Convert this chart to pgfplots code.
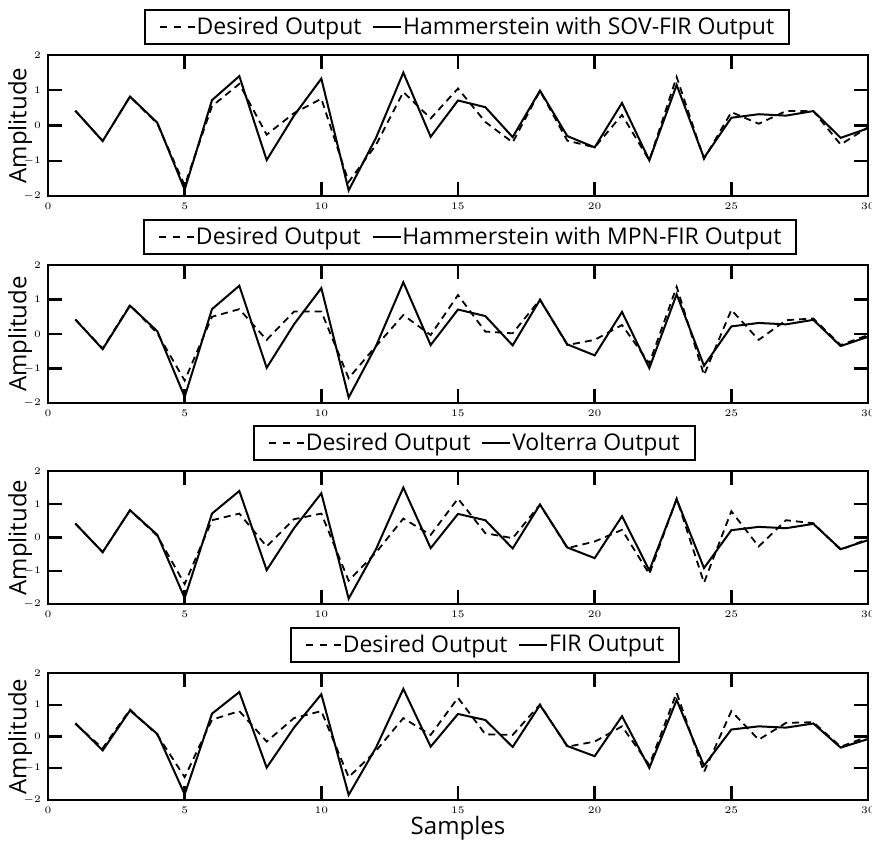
\documentclass[border=0pt]{standalone}
\usepackage{fontspec}
\setmainfont{Open Sans}
\usepackage{pgfplots}
\pgfplotsset{compat=1.18}
\usepackage{pgfplotstable}

% model output (solid), same in all panels
\pgfplotstableread{
x y
1 0.42
2 -0.44
3 0.82
4 0.08
5 -1.82
6 0.72
7 1.40
8 -0.98
9 0.28
10 1.33
11 -1.84
12 -0.35
13 1.50
14 -0.32
15 0.71
16 0.52
17 -0.33
18 0.99
19 -0.30
20 -0.62
21 0.64
22 -0.99
23 1.15
24 -0.92
25 0.22
26 0.32
27 0.28
28 0.41
29 -0.35
30 -0.08
}\solid

\pgfplotstableread{
x y
1 0.42
2 -0.44
3 0.82
4 0.05
5 -1.70
6 0.55
7 1.18
8 -0.26
9 0.35
10 0.76
11 -1.60
12 -0.55
13 0.95
14 0.20
15 1.05
16 0.10
17 -0.48
18 0.98
19 -0.43
20 -0.62
21 0.30
22 -0.99
23 1.38
24 -0.95
25 0.38
26 0.05
27 0.41
28 0.41
29 -0.54
30 -0.05
}\dOne

\pgfplotstableread{
x y
1 0.42
2 -0.42
3 0.84
4 0.02
5 -1.35
6 0.50
7 0.72
8 -0.17
9 0.65
10 0.65
11 -1.28
12 -0.35
13 0.55
14 -0.03
15 1.13
16 0.07
17 0.02
18 1.00
19 -0.32
20 -0.17
21 0.26
22 -0.85
23 1.37
24 -1.19
25 0.70
26 -0.17
27 0.40
28 0.45
29 -0.32
30 -0.03
}\dTwo

\pgfplotstableread{
x y
1 0.42
2 -0.44
3 0.82
4 0.05
5 -1.40
6 0.52
7 0.72
8 -0.27
9 0.55
10 0.72
11 -1.30
12 -0.45
13 0.57
14 0.08
15 1.17
16 0.13
17 -0.02
18 0.99
19 -0.32
20 -0.12
21 0.23
22 -1.10
23 1.17
24 -1.36
25 0.79
26 -0.27
27 0.52
28 0.43
29 -0.37
30 -0.04
}\dThree

\pgfplotstableread{
x y
1 0.40
2 -0.37
3 0.85
4 0.05
5 -1.28
6 0.53
7 0.80
8 -0.16
9 0.58
10 0.80
11 -1.28
12 -0.45
13 0.58
14 0.05
15 1.22
16 0.07
17 0.05
18 1.01
19 -0.32
20 -0.16
21 0.32
22 -0.90
23 1.38
24 -1.12
25 0.80
26 -0.10
27 0.43
28 0.45
29 -0.32
30 0.00
}\dFour

\pgfplotsset{
  panel/.style={
    scale only axis, width=410pt,
    xmin=0, xmax=30, ymin=-2, ymax=2,
    xtick={0,5,...,30}, ytick={-2,-1,0,1,2},
    major tick length=7pt,
    tick style={black, line width=1.2pt},
    tick label style={font=\fontsize{3.5}{4}\selectfont},
    axis line style={line width=1.2pt},
    ylabel=Amplitude,
    every axis y label/.style={at={(axis description cs:-0.034,0.5)}, rotate=90, anchor=center, font=\fontsize{12}{14}\selectfont},
    legend columns=2,
    legend style={anchor=south, yshift=5pt, draw=black, line width=1pt,
      font=\fontsize{11.5}{13}\selectfont, inner xsep=7pt, inner ysep=1.5pt,
      nodes={inner xsep=0.5pt},
      /tikz/every even column/.append style={column sep=5pt}},
  },
  des/.style={black, line width=0.9pt, dash pattern=on 3.5pt off 2.5pt,
    legend image code/.code={\draw[##1, dash pattern=on 3.5pt off 3.5pt] (0pt,0pt) -- (17.5pt,0pt);}},
  mdl/.style={black, line width=1pt,
    legend image code/.code={\draw[##1, line width=0.8pt] (0pt,0pt) -- (14pt,0pt);}},
}

\begin{document}
\begin{tikzpicture}
\path[use as bounding box] (-24pt,-420.5pt) rectangle (412pt,0pt);

\begin{axis}[panel, at={(0pt,-98pt)}, anchor=south west, height=70.5pt,
  legend style={at={(0.511,1)}}]
\addplot[des] table[x=x,y=y]{\dOne};
\addlegendentry{Desired Output}
\addplot[mdl] table[x=x,y=y]{\solid};
\addlegendentry{Hammerstein with SOV-FIR Output}
\end{axis}

\begin{axis}[panel, at={(0pt,-201.5pt)}, anchor=south west, height=69pt,
  legend style={at={(0.515,1)}}]
\addplot[des] table[x=x,y=y]{\dTwo};
\addlegendentry{Desired Output}
\addplot[mdl] table[x=x,y=y]{\solid};
\addlegendentry{Hammerstein with MPN-FIR Output}
\end{axis}

\begin{axis}[panel, at={(0pt,-302pt)}, anchor=south west, height=66.5pt,
  legend style={at={(0.52,1)}}]
\addplot[des] table[x=x,y=y]{\dThree};
\addlegendentry{Desired Output}
\addplot[mdl] table[x=x,y=y]{\solid};
\addlegendentry{Volterra Output}
\end{axis}

\begin{axis}[panel, at={(0pt,-400pt)}, anchor=south west, height=63.5pt,
  legend style={at={(0.533,1)}},
  xlabel=Samples,
  every axis x label/.style={at={(axis description cs:0.5,-0.22)}, anchor=center, font=\fontsize{12}{14}\selectfont}]
\addplot[des] table[x=x,y=y]{\dFour};
\addlegendentry{Desired Output}
\addplot[mdl] table[x=x,y=y]{\solid};
\addlegendentry{FIR Output}
\end{axis}
\end{tikzpicture}
\end{document}
